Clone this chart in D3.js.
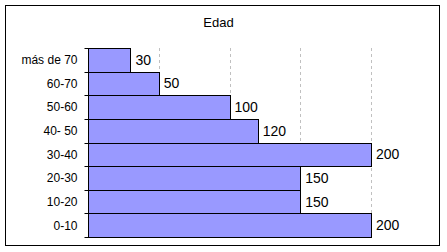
<!DOCTYPE html>
<html>
<head>
<meta charset="utf-8">
<script src="https://cdn.jsdelivr.net/npm/d3@7"></script>
<style>
  body { margin: 0; background: #fff; }
  text { font-family: Arial, "Liberation Sans", sans-serif; fill: #000; }
</style>
</head>
<body>
<svg id="chart"></svg>
<script>
// data, top row first
const categories = ["más de 70", "60-70", "50-60", "40- 50", "30-40", "20-30", "10-20", "0-10"];
const values = [30, 50, 100, 120, 200, 150, 150, 200];
const gridTicks = [50, 100, 150, 200];
const chartTitle = "Edad";

const width = 447, height = 252;
const svg = d3.select("#chart").attr("width", width).attr("height", height);

// outer frame
svg.append("rect")
  .attr("x", 5.5).attr("y", 5.5)
  .attr("width", 434).attr("height", 240)
  .attr("fill", "#fff").attr("stroke", "#000").attr("stroke-width", 1);

svg.append("text")
  .attr("x", 218.5).attr("y", 27)
  .attr("text-anchor", "middle")
  .style("font-size", "13px")
  .text(chartTitle);

const x = d3.scaleLinear().domain([0, 200]).range([88, 371]);
const y = d3.scaleBand().domain(categories).range([48, 237]).padding(0);

// dashed gridlines
svg.append("g").selectAll("line")
  .data(gridTicks)
  .join("line")
    .attr("x1", d => Math.round(x(d)) + 0.5)
    .attr("x2", d => Math.round(x(d)) + 0.5)
    .attr("y1", 48).attr("y2", 237)
    .attr("stroke", "#c0c0c0")
    .attr("stroke-dasharray", "3,3");

// bars
svg.append("g").selectAll("rect")
  .data(values)
  .join("rect")
    .attr("x", x(0) + 0.5)
    .attr("y", (d, i) => Math.round(y(categories[i])) + 0.5)
    .attr("width", d => Math.round(x(d) - x(0)))
    .attr("height", (d, i) => Math.round(y(categories[i]) + y.bandwidth()) - Math.round(y(categories[i])))
    .attr("fill", "#9999ff")
    .attr("stroke", "#000")
    .attr("stroke-width", 1);

// value labels
svg.append("g").selectAll("text")
  .data(values)
  .join("text")
    .attr("x", d => x(d) + 5)
    .attr("y", (d, i) => y(categories[i]) + y.bandwidth() / 2)
    .attr("dy", "0.36em")
    .style("font-size", "14px")
    .text(d => d);

// category axis
const axis = svg.append("g").attr("transform", `translate(${x(0) + 0.5},0)`);
axis.append("line")
  .attr("y1", 48).attr("y2", 237.5)
  .attr("stroke", "#000");
axis.selectAll("line.tick")
  .data(d3.range(categories.length + 1))
  .join("line")
    .attr("class", "tick")
    .attr("x1", -4).attr("x2", 0)
    .attr("y1", i => Math.round(48 + i * y.step()) + 0.5)
    .attr("y2", i => Math.round(48 + i * y.step()) + 0.5)
    .attr("stroke", "#000");
axis.selectAll("text")
  .data(categories)
  .join("text")
    .attr("x", -11)
    .attr("y", d => y(d) + y.bandwidth() / 2)
    .attr("dy", "0.36em")
    .attr("text-anchor", "end")
    .style("font-size", "12px")
    .text(d => d);
</script>
</body>
</html>
